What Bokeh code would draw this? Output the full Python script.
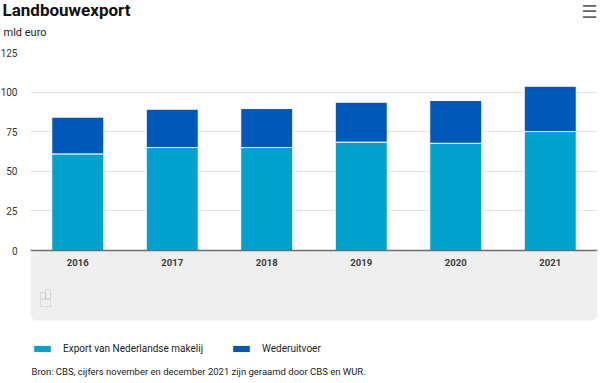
from bokeh.plotting import figure
from bokeh.models import (ColumnDataSource, Label, BoxAnnotation, Legend,
                          LegendItem, FixedTicker, Range1d, Title)
from bokeh.embed import file_html
from bokeh.resources import INLINE

# ---- data ----
years = ["2016", "2017", "2018", "2019", "2020", "2021"]
export_nl = [61.0, 65.0, 65.0, 68.4, 67.7, 75.1]
wederuitvoer = [23.2, 24.2, 24.6, 25.2, 27.0, 28.6]
y_ticks = [0, 25, 50, 75, 100, 125]
series = ["Export van Nederlandse makelij", "Wederuitvoer"]
colors = ["#00a1cd", "#0058b8"]

title_text = "Landbouwexport"
unit_text = "mld euro"
menu_text = "\u2630"
source_text = "Bron: CBS, cijfers november en december 2021 zijn geraamd door CBS en WUR."

FONT = "Roboto"
W, H = 605, 383
TOP, LEFT, RIGHT = 52, 30, 5          # frame edges (px)
ZERO_PX, BAND_PX = 250, 320           # y pixel of the zero line and band bottom
Y_MAX = 125
px_per_unit = (ZERO_PX - TOP) / Y_MAX
y_start = -(H - ZERO_PX) / px_per_unit
band_bottom = -(BAND_PX - ZERO_PX) / px_per_unit

p = figure(x_range=years, y_range=Range1d(y_start, Y_MAX), width=W, height=H,
           output_backend="svg", toolbar_location=None,
           min_border_left=LEFT, min_border_right=RIGHT,
           min_border_top=TOP, min_border_bottom=0)
p.margin = (0, -8, -8, -3)
p.outline_line_color = None
p.background_fill_color = "white"
p.border_fill_color = "white"

# grey band below the zero line
p.add_layout(BoxAnnotation(top=0, bottom=band_bottom, fill_color="#efefef",
                           fill_alpha=1, line_color=None, border_radius=6,
                           level="underlay"))

src = ColumnDataSource(dict(year=years, export=export_nl, weder=wederuitvoer))
rs = p.vbar_stack(["export", "weder"], x="year", width=0.55, source=src,
                  fill_color=colors, line_color="white", line_width=1)

# axes
p.yaxis.ticker = FixedTicker(ticks=y_ticks)
p.yaxis.axis_line_color = None
p.yaxis.major_tick_line_color = None
p.yaxis.major_tick_out = 0
p.yaxis.major_tick_in = 0
p.yaxis.minor_tick_line_color = None
p.yaxis.major_label_text_font = FONT
p.yaxis.major_label_text_font_size = "10px"
p.yaxis.major_label_text_color = "#333333"
p.yaxis.major_label_standoff = 13

p.xaxis.fixed_location = 0
p.xaxis.axis_line_color = "#6e6e6e"
p.xaxis.axis_line_width = 1.5
p.xaxis.major_tick_line_color = None
p.xaxis.major_tick_out = 0
p.xaxis.major_tick_in = 0
p.xaxis.minor_tick_line_color = None
p.xaxis.major_label_text_font = FONT
p.xaxis.major_label_text_font_size = "9.5px"
p.xaxis.major_label_text_font_style = "bold"
p.xaxis.major_label_text_color = "#3a3a3a"
p.xaxis.major_label_standoff = 8

p.ygrid.grid_line_color = "#e3e3e3"
p.xgrid.grid_line_color = None

# ---- texts above the frame (stacked title panels) ----
# estimated text box heights (font metrics) used to place the panels
h_unit, h_title = 12.9, 19.9
unit_bottom, title_bottom = 38.6, 20.0
s_unit = 2 * (TOP - unit_bottom)
unit_top = TOP - (2 + h_unit + s_unit)
s_title = 2 * (unit_top - title_bottom)
h_menu = 21.0
s_menu = -(2 + h_menu)

p.add_layout(Title(text=unit_text, align="left", offset=-(LEFT - 3),
                   text_font=FONT, text_font_size="11px",
                   text_font_style="normal", text_color="#222222",
                   standoff=s_unit), "above")
p.add_layout(Title(text=menu_text, align="right", offset=0,
                   text_font="DejaVu Sans", text_font_size="18px",
                   text_font_style="normal", text_color="#666666",
                   standoff=s_menu), "above")
p.add_layout(Title(text=title_text, align="left", offset=-(LEFT - 2),
                   text_font=FONT, text_font_size="17px",
                   text_font_style="bold", text_color="#111111",
                   standoff=s_title), "above")

# small logo approximation (screen units: from frame left / frame bottom)
for (l, r, t, b) in [(10, 15, 91, 85), (15, 20, 94, 85), (10, 20, 84, 77)]:
    p.add_layout(BoxAnnotation(left=l, right=r, top=t, bottom=b,
                               left_units="screen", right_units="screen",
                               top_units="screen", bottom_units="screen",
                               fill_alpha=0, line_color="#aaaaaa", line_width=1))

# source note
p.add_layout(Label(x=1, y=12, x_units="screen", y_units="screen", text=source_text,
                   text_font=FONT, text_font_size="9.5px", text_color="#222222",
                   text_baseline="middle"))

legend = Legend(items=[LegendItem(label=series[0], renderers=[rs[0]]),
                       LegendItem(label=series[1], renderers=[rs[1]])],
                orientation="horizontal", location=(1, 29),
                glyph_width=22, glyph_height=9, label_standoff=10, spacing=27,
                padding=0, margin=0, border_line_color=None,
                background_fill_alpha=0, label_height=9,
                label_text_font=FONT, label_text_font_size="10px",
                label_text_color="#222222")
p.add_layout(legend)

open("out.html", "w").write(file_html(p, INLINE))
